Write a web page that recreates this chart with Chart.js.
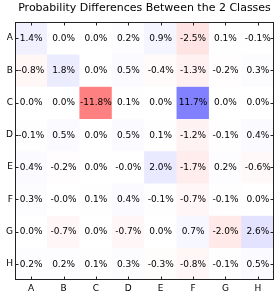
<!DOCTYPE html>
<html>
<head>
<meta charset="utf-8">
<script src="https://cdn.jsdelivr.net/npm/chart.js@4"></script>
<style>
  html, body { margin: 0; padding: 0; background: #fff; }
  #wrap { width: 279px; height: 298px; }
</style>
</head>
<body>
<div id="wrap"><canvas id="heat"></canvas></div>
<script>
// Heatmap data (percent), rows top to bottom, columns left to right
const rowLabels = ['A', 'B', 'C', 'D', 'E', 'F', 'G', 'H'];
const colLabels = ['A', 'B', 'C', 'D', 'E', 'F', 'G', 'H'];
const rowA = [1.4, 0.0, 0.0, 0.2, 0.9, -2.5, 0.1, -0.1];
const rowB = [-0.8, 1.8, 0.0, 0.5, -0.4, -1.3, -0.2, 0.3];
const rowC = [0.0, 0.0, -11.8, 0.1, 0.0, 11.7, 0.0, 0.0];
const rowD = [-0.1, 0.5, 0.0, 0.5, 0.1, -1.2, -0.1, 0.4];
const rowE = [0.4, -0.2, 0.0, -0.01, 2.0, -1.7, 0.2, -0.6];
const rowF = [0.3, -0.01, 0.1, 0.4, -0.1, -0.7, -0.1, 0.0];
const rowG = [0.0, -0.7, 0.0, -0.7, 0.0, 0.7, -2.0, 2.6];
const rowH = [0.2, 0.2, 0.1, 0.3, -0.3, -0.8, -0.1, 0.5];
const rows = [rowA, rowB, rowC, rowD, rowE, rowF, rowG, rowH];

const vmax = Math.max(...rows.flat().map(Math.abs));

// bwr-like, reversed (positive = blue), half alpha over white
function cellColor(v) {
    const t = Math.min(Math.abs(v) / vmax, 1);
    const c = Math.round(255 * (1 - t / 2));
    return v >= 0 ? `rgb(${c},${c},255)` : `rgb(255,${c},${c})`;
}

// text in the middle of every cell + inward ticks + frame
const cellText = {
    id: 'cellText',
    beforeDraw(chart) {
        // center the title over the plot area, not the whole canvas
        if (chart.titleBlock) {
            chart.titleBlock.left = chart.chartArea.left;
            chart.titleBlock.right = chart.chartArea.right;
        }
    },
    afterDatasetsDraw(chart) {
        const ctx = chart.ctx;
        ctx.save();
        ctx.fillStyle = '#000';
        ctx.font = '9px "DejaVu Sans"';
        ctx.textAlign = 'center';
        ctx.textBaseline = 'middle';
        rows.forEach((vals, r) => {
            const meta = chart.getDatasetMeta(r);
            meta.data.forEach((bar, c) => {
                const y = (bar.y + bar.base) / 2;
                ctx.fillText(vals[c].toFixed(1) + '%', bar.x, y + 0.5);
            });
        });
        ctx.restore();
    },
    afterDraw(chart) {
        const ctx = chart.ctx;
        const a = chart.chartArea;
        const xs = chart.scales.x, ys = chart.scales.y;
        const len = 3.5;
        ctx.save();
        ctx.strokeStyle = '#222';
        ctx.lineWidth = 1;
        ctx.beginPath();
        colLabels.forEach((_, i) => {
            const x = Math.round(xs.getPixelForValue(i)) + 0.5;
            ctx.moveTo(x, a.top); ctx.lineTo(x, a.top + len);
            ctx.moveTo(x, a.bottom); ctx.lineTo(x, a.bottom - len);
        });
        rowLabels.forEach((_, i) => {
            const y = Math.round(ys.getPixelForValue(i + 0.5)) + 0.5;
            ctx.moveTo(a.left, y); ctx.lineTo(a.left + len, y);
            ctx.moveTo(a.right, y); ctx.lineTo(a.right - len, y);
        });
        ctx.stroke();
        ctx.strokeRect(Math.round(a.left) + 0.5, Math.round(a.top) + 0.5,
            Math.round(a.right - a.left) - 1, Math.round(a.bottom - a.top) - 1);
        ctx.restore();
    }
};

const datasets = rows.map((vals, r) => ({
    label: rowLabels[r],
    data: vals.map(() => 1),
    backgroundColor: vals.map(cellColor),
    borderWidth: 0,
    barPercentage: 1,
    categoryPercentage: 1
}));

new Chart(document.getElementById('heat'), {
    type: 'bar',
    data: { labels: colLabels, datasets: datasets },
    options: {
        responsive: true,
        maintainAspectRatio: false,
        animation: false,
        layout: { padding: { left: 0, right: 5, top: 0, bottom: 0 } },
        plugins: {
            legend: { display: false },
            tooltip: { enabled: false },
            title: {
                display: true,
                text: 'Probability Differences Between the 2 Classes',
                color: '#000',
                font: { family: 'DejaVu Sans', size: 11, weight: 'normal' },
                padding: { top: 2, bottom: 6.8 }
            }
        },
        scales: {
            x: {
                stacked: true,
                grid: { display: false, drawTicks: false },
                border: { display: false },
                ticks: { color: '#000', padding: 3, font: { family: 'DejaVu Sans', size: 9 } },
                afterFit: s => { s.height = 18; }
            },
            y: {
                stacked: true,
                reverse: true,
                min: 0,
                max: rowLabels.length,
                grid: { display: false, drawTicks: false },
                border: { display: false },
                afterBuildTicks: s => { s.ticks = rowLabels.map((_, i) => ({ value: i + 0.5 })); },
                ticks: {
                    color: '#000',
                    padding: 2,
                    font: { family: 'DejaVu Sans', size: 9 },
                    callback: v => rowLabels[Math.floor(v)]
                },
                afterFit: s => { s.width = 15; }
            }
        }
    },
    plugins: [cellText]
});
</script>
</body>
</html>
